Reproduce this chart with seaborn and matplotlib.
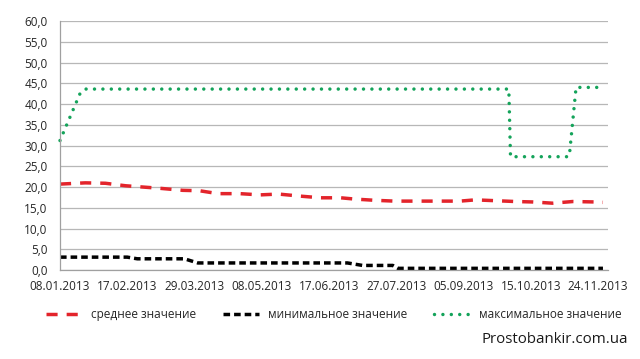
#!/usr/bin/env python3

import matplotlib

matplotlib.use("Agg")
import matplotlib.pyplot as plt
import pandas
import seaborn as sns

# Average rate
mean_dates = [
    "08.01.2013", "23.01.2013", "04.02.2013", "16.02.2013", "26.02.2013",
    "08.03.2013", "22.03.2013", "01.04.2013", "12.04.2013", "25.04.2013",
    "07.05.2013", "18.05.2013", "31.05.2013", "12.06.2013", "24.06.2013",
    "02.07.2013", "14.07.2013", "26.07.2013", "03.09.2013", "12.09.2013",
    "24.09.2013", "06.10.2013", "16.10.2013", "28.10.2013", "09.11.2013",
    "22.11.2013", "27.11.2013",
]
mean_values = [
    20.7, 21.0, 20.9, 20.3, 20.0,
    19.7, 19.2, 19.1, 18.4, 18.4,
    18.1, 18.3, 17.8, 17.4, 17.4,
    17.1, 16.8, 16.6, 16.6, 16.9,
    16.7, 16.5, 16.4, 16.1, 16.5,
    16.4, 16.3,
]

# Minimum rate
min_dates = [
    "08.01.2013", "17.02.2013", "23.02.2013", "23.03.2013", "31.03.2013",
    "28.06.2013", "07.07.2013", "25.07.2013", "28.07.2013", "27.11.2013",
]
min_values = [3.1, 3.1, 2.7, 2.7, 1.7, 1.7, 1.1, 1.1, 0.4, 0.4]

# Maximum rate
max_dates = [
    "08.01.2013", "20.01.2013", "23.01.2013", "02.10.2013", "03.10.2013",
    "06.11.2013", "07.11.2013", "11.11.2013", "27.11.2013",
]
max_values = [31.2, 42.6, 43.6, 43.6, 27.3, 27.3, 27.5, 44.0, 44.0]

tick_dates = [
    "08.01.2013", "17.02.2013", "29.03.2013", "08.05.2013", "17.06.2013",
    "27.07.2013", "05.09.2013", "15.10.2013", "24.11.2013",
]
y_ticks = [0, 5, 10, 15, 20, 25, 30, 35, 40, 45, 50, 55, 60]

labels = ["среднее значение", "минимальное значение", "максимальное значение"]


def to_frame(dates, values):
    return pandas.DataFrame(
        {"date": pandas.to_datetime(dates, format="%d.%m.%Y"), "value": values}
    )


def main():
    sns.set_style("white")
    plt.rcParams["font.family"] = ["Open Sans", "DejaVu Sans"]

    fig = plt.figure(figsize=(6.4, 3.59), dpi=100)
    ax = fig.add_axes([0.09375, 0.2479, 0.85625, 0.6936])

    lw = 2.5
    sns.lineplot(
        data=to_frame(mean_dates, mean_values), x="date", y="value", ax=ax,
        color="#e3242b", linewidth=lw, linestyle=(0, (3.2, 2.6)), label=labels[0],
    )
    sns.lineplot(
        data=to_frame(min_dates, min_values), x="date", y="value", ax=ax,
        color="#000000", linewidth=lw, linestyle=(0, (1.9, 1.15)), label=labels[1],
    )
    sns.lineplot(
        data=to_frame(max_dates, max_values), x="date", y="value", ax=ax,
        color="#14a35a", linewidth=lw, linestyle=(0, (0.001, 2.42)),
        dash_capstyle="round", clip_on=False, label=labels[2],
    )

    ticks = pandas.to_datetime(tick_dates, format="%d.%m.%Y")
    ax.set_xlim(ticks[0], ticks[0] + pandas.Timedelta(days=326))
    ax.set_xticks(ticks)
    ax.set_xticklabels([t.strftime("%d.%m.%Y") for t in ticks])
    ax.set_ylim(0, 60)
    ax.set_yticks(y_ticks)
    ax.set_yticklabels([f"{v:.1f}".replace(".", ",") for v in y_ticks])
    ax.set_xlabel("")
    ax.set_ylabel("")

    ax.grid(axis="y", color="#b7b7b7", linewidth=0.9)
    ax.grid(axis="x", visible=False)
    ax.set_axisbelow(True)
    for side in ["top", "right"]:
        ax.spines[side].set_visible(False)
    for side in ["left", "bottom"]:
        ax.spines[side].set_color("#a0a0a0")
        ax.spines[side].set_linewidth(0.9)
    ax.tick_params(
        axis="both", colors="#a0a0a0", labelcolor="#262626", labelsize=8.5,
        length=3, width=0.9, direction="out",
    )
    ax.tick_params(axis="y", pad=6)
    ax.tick_params(axis="x", pad=4)

    ax.legend(
        loc="center", bbox_to_anchor=(0.5, -0.18), ncol=3, frameon=False,
        fontsize=8.5, handlelength=3.0, columnspacing=2.3, handletextpad=0.8,
        labelcolor="#262626",
    )

    fig.text(0.981, 0.053, "Prostobankir.com.ua", ha="right", va="center",
             fontsize=10.8, color="#1a1a1a")

    plt.savefig("out.png", dpi=100)


if __name__ == "__main__":
    main()
